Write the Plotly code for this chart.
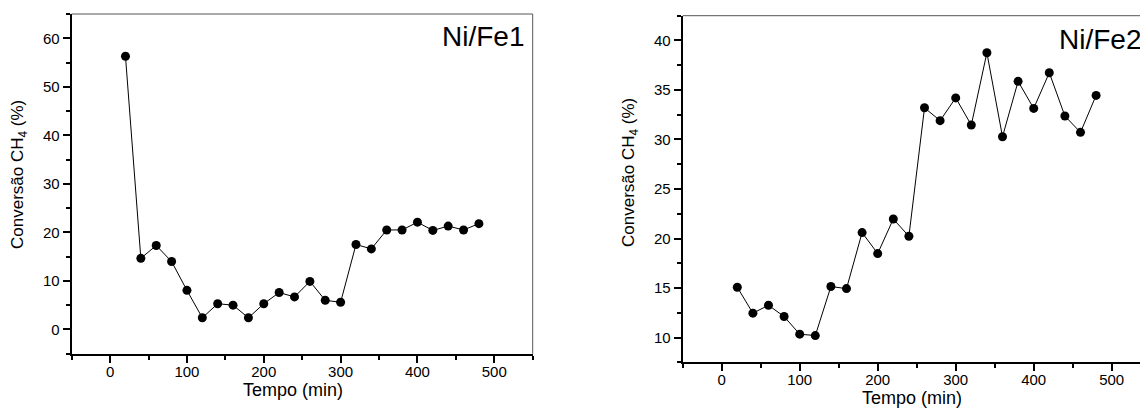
import plotly.graph_objects as go

tempo = [20, 40, 60, 80, 100, 120, 140, 160, 180, 200, 220, 240,
         260, 280, 300, 320, 340, 360, 380, 400, 420, 440, 460, 480]
nife1 = [56.3, 14.65, 17.3, 14.0, 8.05, 2.4, 5.3, 5.0, 2.4, 5.3, 7.6, 6.7,
         9.9, 6.0, 5.6, 17.5, 16.6, 20.5, 20.5, 22.1, 20.4, 21.3, 20.5, 21.8]
nife2 = [15.08, 12.46, 13.26, 12.12, 10.34, 10.2, 15.15, 14.94, 20.6, 18.48, 21.97, 20.23,
         33.2, 31.9, 34.2, 31.46, 38.76, 30.28, 35.87, 33.14, 36.74, 32.37, 30.72, 34.45]
labels = ["Ni/Fe1", "Ni/Fe2"]
x_title = "Tempo (min)"
y_title = "Conversão CH<sub>4</sub> (%)"

W, H = 1140, 408
FONT = "Arial, Liberation Sans, sans-serif"

def px(x):
    return x / W

def py(y):
    return (H - y) / H

fig = go.Figure()
fig.add_trace(go.Scatter(x=tempo, y=nife1, mode="lines+markers", xaxis="x", yaxis="y",
                         line=dict(color="black", width=1),
                         marker=dict(color="black", size=9), showlegend=False))
fig.add_trace(go.Scatter(x=tempo, y=nife2, mode="lines+markers", xaxis="x2", yaxis="y2",
                         line=dict(color="black", width=1),
                         marker=dict(color="black", size=9), showlegend=False))

common = dict(showgrid=False, zeroline=False, showline=True, linecolor="black", linewidth=2,
              ticks="outside", ticklen=7, tickwidth=1.5, tickcolor="black",
              tickfont=dict(family=FONT, size=15, color="black"))
minor_x = dict(dtick=50, tick0=0, ticks="outside", ticklen=4, tickwidth=1.5, tickcolor="black")

fig.update_layout(
    width=W, height=H, margin=dict(l=0, r=0, t=0, b=0),
    paper_bgcolor="white", plot_bgcolor="white",
    xaxis=dict(domain=[px(71.7), px(532.7)], range=[-50, 550], anchor="y",
               tickmode="linear", tick0=0, dtick=100, minor=minor_x, ticklabelstandoff=-4,
               **common),
    yaxis=dict(domain=[py(353.7), py(14)], range=[-5, 65], anchor="x",
               tickmode="linear", tick0=0, dtick=10,
               minor=dict(dtick=5, tick0=0, ticks="outside", ticklen=4, tickwidth=1.5, tickcolor="black"),
               **common),
    xaxis2=dict(domain=[px(682.7), 1.0], range=[-50, (1140 - 682.7) / 0.78 - 50], anchor="y2",
                tickmode="linear", tick0=0, dtick=100, minor=minor_x, ticklabelstandoff=-4,
                **common),
    yaxis2=dict(domain=[py(362.3), py(15.7)], range=[7.5, 42.5], anchor="x2",
                tickmode="linear", tick0=0, dtick=5,
                minor=dict(dtick=2.5, tick0=0, ticks="outside", ticklen=4, tickwidth=1.5, tickcolor="black"),
                **common),
)

frame = dict(color="#555555", width=1)
fig.add_shape(type="line", xref="x domain", yref="y domain", x0=0, x1=1, y0=1, y1=1, line=frame)
fig.add_shape(type="line", xref="x domain", yref="y domain", x0=1, x1=1, y0=0, y1=1, line=frame)
fig.add_shape(type="line", xref="x2 domain", yref="y2 domain", x0=0, x1=1, y0=1, y1=1, line=frame)

ann_font = dict(family=FONT, size=18, color="black")
# axis titles
fig.add_annotation(text=x_title, xref="paper", yref="paper", x=px(293), y=py(390),
                   showarrow=False, font=ann_font, xanchor="center", yanchor="middle")
fig.add_annotation(text=x_title, xref="paper", yref="paper", x=px(912), y=py(398),
                   showarrow=False, font=ann_font, xanchor="center", yanchor="middle")
fig.add_annotation(text=y_title, xref="paper", yref="paper", x=px(19), y=py(175),
                   showarrow=False, font=dict(family=FONT, size=17, color="black"),
                   textangle=-90, xanchor="center", yanchor="middle")
fig.add_annotation(text=y_title, xref="paper", yref="paper", x=px(630), y=py(173),
                   showarrow=False, font=dict(family=FONT, size=17, color="black"),
                   textangle=-90, xanchor="center", yanchor="middle")
# panel labels
lab_font = dict(family=FONT, size=28, color="black")
fig.add_annotation(text=labels[0], xref="paper", yref="paper", x=px(440), y=py(36),
                   showarrow=False, font=lab_font, xanchor="left", yanchor="middle")
fig.add_annotation(text=labels[1], xref="paper", yref="paper", x=px(1057), y=py(39),
                   showarrow=False, font=lab_font, xanchor="left", yanchor="middle")

fig.write_html("out.html")
